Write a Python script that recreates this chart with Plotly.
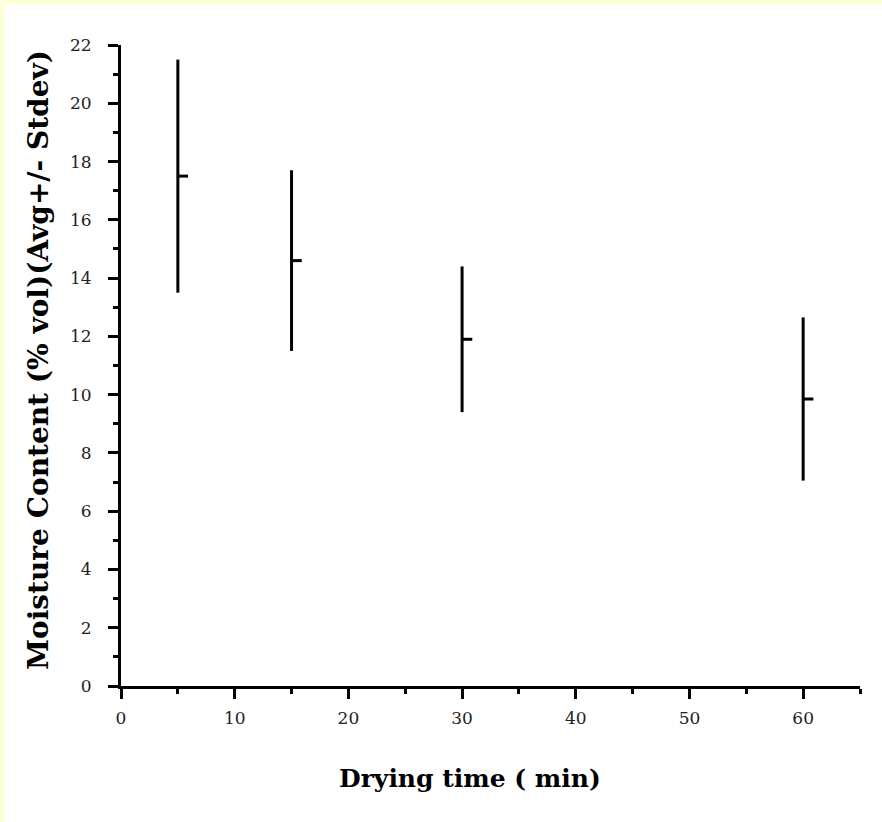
import plotly.graph_objects as go

# Data
drying_time = [5, 15, 30, 60]
moisture_avg = [17.5, 14.6, 11.9, 9.85]
moisture_sd = [4.0, 3.1, 2.5, 2.8]

x_ticks = [0, 10, 20, 30, 40, 50, 60]
y_ticks = [0, 2, 4, 6, 8, 10, 12, 14, 16, 18, 20, 22]

mean_tick_len = 0.9  # length of mean marker (x units), drawn to the right

fig = go.Figure()
fig.add_trace(go.Scatter(
    x=drying_time, y=moisture_avg, mode="markers",
    marker=dict(size=1, color="black"),
    error_y=dict(type="data", array=moisture_sd, visible=True,
                 color="black", thickness=3, width=0),
    error_x=dict(type="data", symmetric=False,
                 array=[mean_tick_len] * len(drying_time),
                 arrayminus=[0] * len(drying_time), visible=True,
                 color="black", thickness=3, width=0),
    showlegend=False, hoverinfo="skip",
))

L, R, T, B = 121, 22, 45, 136
W, H = 882, 822
pw, ph = W - L - R, H - T - B

def px(xp):
    return (xp - L) / pw

def py(yp):
    return (H - B - yp) / ph

tick_font = dict(family="DejaVu Serif", size=17, color="#222222")

fig.update_layout(
    width=W, height=H,
    margin=dict(l=L, r=R, t=T, b=B, pad=0),
    paper_bgcolor="white", plot_bgcolor="white",
    xaxis=dict(range=[0, 65], tickvals=x_ticks, ticks="outside", ticklen=10,
               tickwidth=3, tickcolor="black", showline=True, linewidth=3,
               linecolor="black", showgrid=False, zeroline=False,
               tickfont=tick_font, ticklabelstandoff=5,
               minor=dict(dtick=5, ticks="outside", ticklen=5, tickwidth=3,
                          tickcolor="black", showgrid=False)),
    yaxis=dict(range=[0, 22], tickvals=y_ticks, ticks="outside", ticklen=10,
               tickwidth=3, tickcolor="black", showline=True, linewidth=3,
               linecolor="black", showgrid=False, zeroline=False,
               tickfont=tick_font, ticklabelstandoff=13,
               minor=dict(dtick=1, ticks="outside", ticklen=5, tickwidth=3,
                          tickcolor="black", showgrid=False)),
    shapes=[
        dict(type="rect", xref="paper", yref="paper", layer="below",
             x0=px(0), x1=px(W), y0=py(0), y1=py(4),
             fillcolor="#FFFFD5", line=dict(width=0)),
        dict(type="rect", xref="paper", yref="paper", layer="below",
             x0=px(0), x1=px(4), y0=py(0), y1=py(H),
             fillcolor="#FFFFD5", line=dict(width=0)),
    ],
    annotations=[
        dict(text="<b>Moisture Content (% vol)(Avg+/- Stdev)</b>",
             xref="paper", yref="paper", x=px(38), y=py(360),
             textangle=-90, showarrow=False, xanchor="center", yanchor="middle",
             font=dict(family="DejaVu Serif", size=28, color="black")),
        dict(text="<b>Drying time ( min)</b>",
             xref="paper", yref="paper", x=px(470), y=py(778),
             showarrow=False, xanchor="center", yanchor="middle",
             font=dict(family="DejaVu Serif", size=25, color="black")),
    ],
)

fig.write_html("out.html",
               config={"displayModeBar": False},
               post_script="document.body.style.margin='0';"
                           "document.body.style.overflow='hidden';")
